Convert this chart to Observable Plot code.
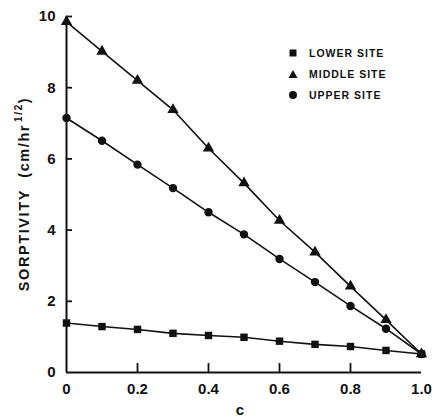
<!DOCTYPE html>
<html>
<head>
<meta charset="utf-8">
<script src="https://cdn.jsdelivr.net/npm/d3@7"></script>
<script src="https://cdn.jsdelivr.net/npm/@observablehq/plot@0.6"></script>
<style>
  html, body { margin: 0; padding: 0; background: #fff; }
  #wrap { position: relative; width: 435px; height: 417px; }
  #legend { position: absolute; left: 288px; top: 42px; font-family: "Liberation Sans", Arial, sans-serif; font-weight: bold; font-size: 10.5px; letter-spacing: 1px; color: #111; }
  #legend div { height: 21px; display: flex; align-items: center; }
  #legend svg { margin-right: 11px; }
</style>
</head>
<body>
<div id="wrap"><div id="legend"></div></div>
<script>
const c = [0, 0.1, 0.2, 0.3, 0.4, 0.5, 0.6, 0.7, 0.8, 0.9, 1.0];
const lower  = [1.39, 1.29, 1.21, 1.10, 1.04, 0.99, 0.88, 0.79, 0.73, 0.62, 0.52];
const middle = [9.85, 9.02, 8.20, 7.38, 6.30, 5.32, 4.27, 3.38, 2.42, 1.48, 0.52];
const upper  = [7.15, 6.51, 5.84, 5.18, 4.50, 3.88, 3.19, 2.54, 1.87, 1.23, 0.52];
const seriesNames = ["LOWER SITE", "MIDDLE SITE", "UPPER SITE"];
const seriesSymbols = ["square", "triangle", "circle"];
const xTicks = [0, 0.2, 0.4, 0.6, 0.8, 1.0];
const xTickLabels = ["0", "0.2", "0.4", "0.6", "0.8", "1.0"];
const yTicks = [0, 2, 4, 6, 8, 10];

const seriesValues = [lower, middle, upper];
const data = [];
seriesValues.forEach((vals, i) => vals.forEach((v, j) => data.push({c: c[j], s: v, site: seriesNames[i]})));

// inward tick lengths, in data units (≈9px and ≈6px)
const xTickLen = 0.25;
const yTickLen = 0.017;

const chart = Plot.plot({
  width: 435,
  height: 417,
  marginLeft: 66,
  marginRight: 14,
  marginTop: 16,
  marginBottom: 45,
  style: {fontFamily: "'Liberation Sans', Arial, sans-serif", fontWeight: "bold", fontSize: "15px", color: "#111", background: "#fff"},
  x: {type: "linear", domain: [0, 1]},
  y: {type: "linear", domain: [0, 10]},
  symbol: {domain: seriesNames, range: seriesSymbols},
  marks: [
    Plot.axisX({ticks: xTicks, tickFormat: (d, i) => xTickLabels[i], tickSize: 0, tickPadding: 11, label: null, fontSize: 15, letterSpacing: 0.8}),
    Plot.axisY({ticks: yTicks, tickSize: 0, tickPadding: 11, label: null, fontSize: 15, letterSpacing: 0.5}),
    Plot.ruleX(xTicks.slice(1, -1), {x: d => d, y1: () => 0, y2: () => xTickLen, stroke: "#111", strokeWidth: 1.8}),
    Plot.ruleY(yTicks.slice(1), {y: d => d, x1: () => 0, x2: () => yTickLen, stroke: "#111", strokeWidth: 1.8}),
    Plot.ruleX([0], {y1: 0, y2: 10, stroke: "#111", strokeWidth: 2}),
    Plot.ruleY([0], {x1: 0, x2: 1, stroke: "#111", strokeWidth: 2}),
    Plot.line(data, {x: "c", y: "s", z: "site", stroke: "#111", strokeWidth: 1.6}),
    Plot.dot(data, {x: "c", y: "s", symbol: "site", fill: "#111", r: 4.2})
  ]
});
document.getElementById("wrap").appendChild(chart);

const svg = d3.select(chart);
// y-axis title with superscript
const yTitle = svg.append("text")
  .attr("transform", `translate(25,194) rotate(-90)`)
  .attr("text-anchor", "middle")
  .attr("dominant-baseline", "middle")
  .attr("font-size", 14.5)
  .attr("letter-spacing", 1.6)
  .attr("fill", "#111");
yTitle.append("tspan").text("SORPTIVITY\u00a0\u00a0(cm/hr");
yTitle.append("tspan").attr("font-size", 10).attr("dy", -6).attr("dx", 2).text("1/2");
yTitle.append("tspan").attr("dy", 6).text(")");

// x-axis title
svg.append("text")
  .attr("x", 240).attr("y", 415)
  .attr("text-anchor", "middle")
  .attr("font-size", 15)
  .attr("fill", "#111")
  .text("c");

// legend
const symPaths = {
  square: '<rect x="1.5" y="1.5" width="7" height="7" fill="#111"/>',
  triangle: '<path d="M5,1 L9.5,9 L0.5,9 Z" fill="#111"/>',
  circle: '<circle cx="5" cy="5" r="4" fill="#111"/>'
};
const legend = d3.select("#legend");
seriesNames.forEach((name, i) => {
  const row = legend.append("div");
  row.html(`<svg width="10" height="10" viewBox="0 0 10 10">${symPaths[seriesSymbols[i]]}</svg><span>${name}</span>`);
});
</script>
</body>
</html>
